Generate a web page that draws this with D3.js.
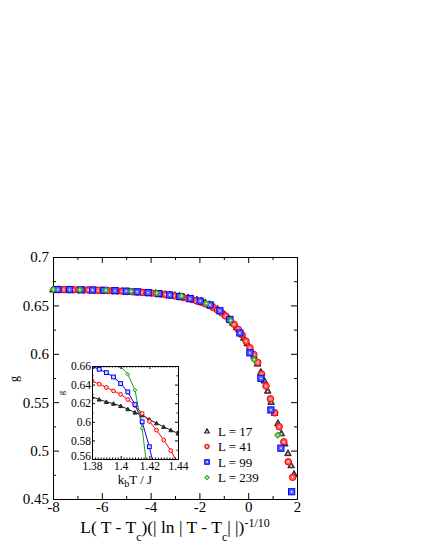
<!DOCTYPE html>
<html><head><meta charset="utf-8">
<script src="https://cdn.jsdelivr.net/npm/d3@7"></script>
<style>
body{margin:0;background:#fff;}
svg{display:block;}
text{font-family:"Liberation Serif","Times New Roman",serif;fill:#000;}
</style></head>
<body>
<svg id="chart" width="425" height="550"></svg>
<script>
// ---------- DATA ----------
const seriesNames = ["L = 17", "L = 41", "L = 99", "L = 239"];
const xTicksMain = [-8, -6, -4, -2, 0, 2];
const yTicksMain = [0.45, 0.5, 0.55, 0.6, 0.65, 0.7];
const xTicksInset = [1.38, 1.4, 1.42, 1.44];
const yTicksInset = [0.56, 0.58, 0.6, 0.62, 0.64, 0.66];

// main scaling collapse: [x, g]
const mainL17 = [[-8.00,0.6665],[-7.80,0.6665],[-7.60,0.6664],[-7.40,0.6664],[-7.20,0.6663],[-7.00,0.6662],[-6.80,0.6661],[-6.60,0.6660],[-6.40,0.6659],[-6.20,0.6658],[-6.00,0.6657],[-5.80,0.6655],[-5.60,0.6654],[-5.40,0.6652],[-5.20,0.6650],[-5.00,0.6648],[-4.80,0.6645],[-4.60,0.6642],[-4.40,0.6639],[-4.20,0.6636],[-4.00,0.6633],[-3.80,0.6629],[-3.60,0.6624],[-3.40,0.6619],[-3.20,0.6614],[-3.00,0.6608],[-2.82,0.6601],[-2.64,0.6593],[-2.46,0.6584],[-2.28,0.6574],[-2.10,0.6562],[-1.93,0.6549],[-1.76,0.6533],[-1.59,0.6514],[-1.42,0.6492],[-1.26,0.6466],[-1.10,0.6437],[-0.94,0.6404],[-0.78,0.6365],[-0.63,0.6322],[-0.48,0.6276],[-0.33,0.6224],[-0.18,0.6168],[-0.04,0.6110],[0.10,0.6048],[0.24,0.5982],[0.38,0.5900],[0.52,0.5815],[0.66,0.5725],[0.80,0.5620],[0.94,0.5505],[1.08,0.5390],[1.22,0.5285],[1.36,0.5180],[1.50,0.5075],[1.63,0.4975],[1.76,0.4850],[1.88,0.4760]];
const mainL41 = [[-7.95,0.6664],[-7.75,0.6664],[-7.55,0.6663],[-7.35,0.6663],[-7.15,0.6662],[-6.95,0.6661],[-6.75,0.6660],[-6.55,0.6659],[-6.35,0.6658],[-6.15,0.6656],[-5.95,0.6655],[-5.75,0.6653],[-5.55,0.6651],[-5.35,0.6649],[-5.15,0.6647],[-4.95,0.6644],[-4.75,0.6641],[-4.55,0.6638],[-4.35,0.6635],[-4.15,0.6631],[-3.96,0.6627],[-3.77,0.6622],[-3.58,0.6617],[-3.39,0.6611],[-3.20,0.6605],[-3.02,0.6598],[-2.84,0.6590],[-2.66,0.6581],[-2.48,0.6571],[-2.30,0.6560],[-2.12,0.6547],[-1.94,0.6533],[-1.77,0.6517],[-1.60,0.6499],[-1.43,0.6478],[-1.26,0.6453],[-1.09,0.6424],[-0.92,0.6390],[-0.75,0.6350],[-0.58,0.6305],[-0.41,0.6252],[-0.25,0.6195],[-0.09,0.6130],[0.07,0.6062],[0.23,0.5992],[0.39,0.5910],[0.55,0.5790],[0.73,0.5667],[0.91,0.5535],[1.09,0.5390],[1.27,0.5247],[1.46,0.5090],[1.64,0.4885],[1.82,0.4724]];
const mainL99 = [[-7.80,0.6664],[-7.32,0.6663],[-6.85,0.6661],[-6.38,0.6659],[-5.92,0.6656],[-5.46,0.6652],[-5.00,0.6647],[-4.55,0.6640],[-4.10,0.6632],[-3.66,0.6622],[-3.22,0.6608],[-2.80,0.6592],[-2.38,0.6570],[-1.97,0.6545],[-1.56,0.6505],[-1.16,0.6445],[-0.75,0.6355],[-0.34,0.6215],[0.07,0.6010],[0.52,0.5747],[0.93,0.5420],[1.34,0.5025],[1.78,0.4575]];
const mainL239 = [[-7.99,0.6665],[-6.90,0.6662],[-5.83,0.6656],[-4.80,0.6645],[-3.75,0.6627],[-2.73,0.6597],[-1.72,0.6520],[-0.72,0.6345],[0.24,0.5940],[1.21,0.5160]];

// inset: [kT/J, g]
const insetL17 = [[1.380,0.6268],[1.385,0.6240],[1.390,0.6214],[1.395,0.6195],[1.400,0.6170],[1.405,0.6136],[1.410,0.6100],[1.415,0.6070],[1.420,0.6025],[1.425,0.5985],[1.430,0.5946],[1.435,0.5910],[1.440,0.5875]];
const insetL41 = [[1.380,0.6440],[1.385,0.6405],[1.390,0.6370],[1.395,0.6332],[1.400,0.6295],[1.405,0.6240],[1.410,0.6175],[1.415,0.6090],[1.420,0.6005],[1.425,0.5910],[1.430,0.5805],[1.435,0.5690],[1.440,0.5550]];
const insetL99 = [[1.380,0.6595],[1.385,0.6565],[1.390,0.6529],[1.395,0.6482],[1.400,0.6411],[1.405,0.6321],[1.410,0.6186],[1.415,0.6000],[1.420,0.5732],[1.425,0.5400]];
const insetL239 = [[1.395,0.6680],[1.400,0.6595],[1.405,0.6511],[1.410,0.6340],[1.415,0.5930],[1.420,0.5300]];

// ---------- STYLE ----------
const colors = ["#222222", "#ff0000", "#0000ff", "#1e9e1e"];
const fills  = ["#555555", "#ff5a5a", "#5a5aff", "#4cbb4c"];
const insetFills = ["#333333", "#ffd6d6", "#d6d6ff", "#c8eec8"];
const shapes = ["triangle", "circle", "square", "diamond"];

const svg = d3.select("#chart");

function symbol(g, shape, cx, cy, s, i, dot, fillCol) {
  let el;
  if (shape === "circle") {
    el = g.append("circle").attr("cx", cx).attr("cy", cy).attr("r", s);
  } else if (shape === "square") {
    el = g.append("rect").attr("x", cx - s).attr("y", cy - s).attr("width", 2*s).attr("height", 2*s);
  } else if (shape === "diamond") {
    el = g.append("path").attr("d", `M${cx},${cy-s}L${cx+s},${cy}L${cx},${cy+s}L${cx-s},${cy}Z`);
  } else {
    const h = s * 1.1;
    el = g.append("path").attr("d", `M${cx},${cy-h}L${cx+h},${cy+h*0.8}L${cx-h},${cy+h*0.8}Z`);
  }
  el.attr("fill", fillCol || fills[i]).attr("stroke", colors[i]).attr("stroke-width", 1);
  if (dot) g.append("circle").attr("cx", cx).attr("cy", cy + (shape === "triangle" ? 0.8 : 0)).attr("r", 0.9).attr("fill", "#fff").attr("opacity", 0.85);
}

// ---------- MAIN PLOT ----------
const x = d3.scaleLinear().domain([-8, 2]).range([53, 297]);
const y = d3.scaleLinear().domain([0.45, 0.7]).range([499, 257]);
const fmt = v => String(v).replace("\u2212", "-");

const minorX = [-7, -5, -3, -1, 1];
const minorY = [0.475, 0.525, 0.575, 0.625, 0.675];

function axesFrame(g, xs, ys, xMaj, xMin, yMaj, yMin, majLen, minLen, xFmt, yFmt, fontSize, xPad, yPad) {
  const [x0, x1] = xs.range();
  const [y0, y1] = ys.range();
  g.append("g").attr("class", "xlab").attr("transform", `translate(0,${y0})`)
    .call(d3.axisBottom(xs).tickValues(xMaj).tickSize(-majLen).tickSizeOuter(0).tickPadding(xPad).tickFormat(xFmt));
  g.append("g").attr("transform", `translate(0,${y0})`)
    .call(d3.axisBottom(xs).tickValues(xMin).tickSize(-minLen).tickSizeOuter(0).tickFormat(""));
  g.append("g").attr("transform", `translate(0,${y1})`)
    .call(d3.axisTop(xs).tickValues(xMaj).tickSize(-majLen).tickSizeOuter(0).tickFormat(""));
  g.append("g").attr("transform", `translate(0,${y1})`)
    .call(d3.axisTop(xs).tickValues(xMin).tickSize(-minLen).tickSizeOuter(0).tickFormat(""));
  g.append("g").attr("class", "ylab").attr("transform", `translate(${x0},0)`)
    .call(d3.axisLeft(ys).tickValues(yMaj).tickSize(-majLen).tickSizeOuter(0).tickPadding(yPad).tickFormat(yFmt));
  g.append("g").attr("transform", `translate(${x0},0)`)
    .call(d3.axisLeft(ys).tickValues(yMin).tickSize(-minLen).tickSizeOuter(0).tickFormat(""));
  g.append("g").attr("transform", `translate(${x1},0)`)
    .call(d3.axisRight(ys).tickValues(yMaj).tickSize(-majLen).tickSizeOuter(0).tickFormat(""));
  g.append("g").attr("transform", `translate(${x1},0)`)
    .call(d3.axisRight(ys).tickValues(yMin).tickSize(-minLen).tickSizeOuter(0).tickFormat(""));
  g.selectAll(".domain").attr("stroke", "#000").attr("stroke-width", 1);
  g.selectAll(".tick line").attr("stroke", "#000").attr("stroke-width", 1);
  g.selectAll(".tick text").attr("font-family", '"Liberation Serif", serif').attr("font-size", fontSize).attr("fill", "#000");
}

const main = svg.append("g");
axesFrame(main, x, y, xTicksMain, minorX, yTicksMain, minorY, 6, 3,
  v => fmt(d3.format("d")(v)), v => String(v), 15, 2, 4);

const mainSeries = [mainL17, mainL41, mainL99, mainL239];
const ptsG = svg.append("g");
const mainSizes = [3.0, 3.3, 3.1, 3.2];
mainSeries.forEach((ser, i) => {
  ser.forEach(d => symbol(ptsG, shapes[i], x(d[0]), y(d[1]), mainSizes[i], i, true));
});

// axis titles
const xt = svg.append("text").attr("x", 175).attr("y", 533).attr("text-anchor", "middle").attr("font-size", 17.5);
xt.append("tspan").text("L( T - T");
xt.append("tspan").text("c").attr("font-size", 12).attr("dy", 8);
xt.append("tspan").text(")(| ln | T - T").attr("dy", -8);
xt.append("tspan").text("c").attr("font-size", 12).attr("dy", 8);
xt.append("tspan").text("| |)").attr("dy", -8);
xt.append("tspan").text("-1/10").attr("font-size", 12).attr("dy", -6.5);

svg.append("text").attr("transform", "translate(18,379) rotate(-90)").attr("text-anchor", "middle").attr("font-size", 12).text("g");

// ---------- INSET ----------
const xi = d3.scaleLinear().domain([1.38, 1.44]).range([92, 178]);
const yi = d3.scaleLinear().domain([0.56, 0.66]).range([459, 366]);
const inset = svg.append("g");
inset.append("rect").attr("x", 92).attr("y", 366).attr("width", 86).attr("height", 93).attr("fill", "#fff");

const minorXi = d3.range(0, 31).map(k => +(1.38 + k * 0.002).toFixed(3)).filter(v => !xTicksInset.some(t => Math.abs(t - v) < 1e-6));
const minorYi = [0.57, 0.59, 0.61, 0.63, 0.65];

svg.append("clipPath").attr("id", "insetClip").append("rect").attr("x", 92).attr("y", 366).attr("width", 86).attr("height", 93);
const idata = inset.append("g").attr("clip-path", "url(#insetClip)");
const insetSeries = [insetL17, insetL41, insetL99, insetL239];
const line = d3.line().x(d => xi(d[0])).y(d => yi(d[1]));
insetSeries.forEach((ser, i) => {
  idata.append("path").attr("d", line(ser)).attr("fill", "none").attr("stroke", colors[i]).attr("stroke-width", 1);
});
insetSeries.forEach((ser, i) => {
  ser.forEach(d => symbol(idata, shapes[i], xi(d[0]), yi(d[1]), i === 0 ? 1.8 : 1.9, i, false, insetFills[i]));
});

axesFrame(inset, xi, yi, xTicksInset, minorXi, yTicksInset, minorYi, 3, 1.5,
  v => String(+v.toFixed(2)), v => String(+v.toFixed(2)), 11.5, 3, 1);
// lift the lowest inset y label slightly, as in the original
inset.selectAll(".ylab .tick text").filter(d => Math.abs(d - 0.56) < 1e-6).attr("y", -3);

const it = svg.append("text").attr("x", 135).attr("y", 484).attr("text-anchor", "middle").attr("font-size", 13);
it.append("tspan").text("k");
it.append("tspan").text("b").attr("font-size", 10).attr("dy", 3);
it.append("tspan").text("T / J").attr("dy", -3);

svg.append("text").attr("transform", "translate(64,393) rotate(-90)").attr("text-anchor", "middle").attr("font-size", 9).text("g");

// ---------- LEGEND ----------
const leg = svg.append("g");
const legY = [431, 446.5, 462, 477.5];
seriesNames.forEach((name, i) => {
  symbol(leg, shapes[i], 207, legY[i], 2.3, i, true);
  leg.append("text").attr("x", 218).attr("y", legY[i] + 4.5).attr("font-size", 13).text(name);
});
</script>
</body></html>
